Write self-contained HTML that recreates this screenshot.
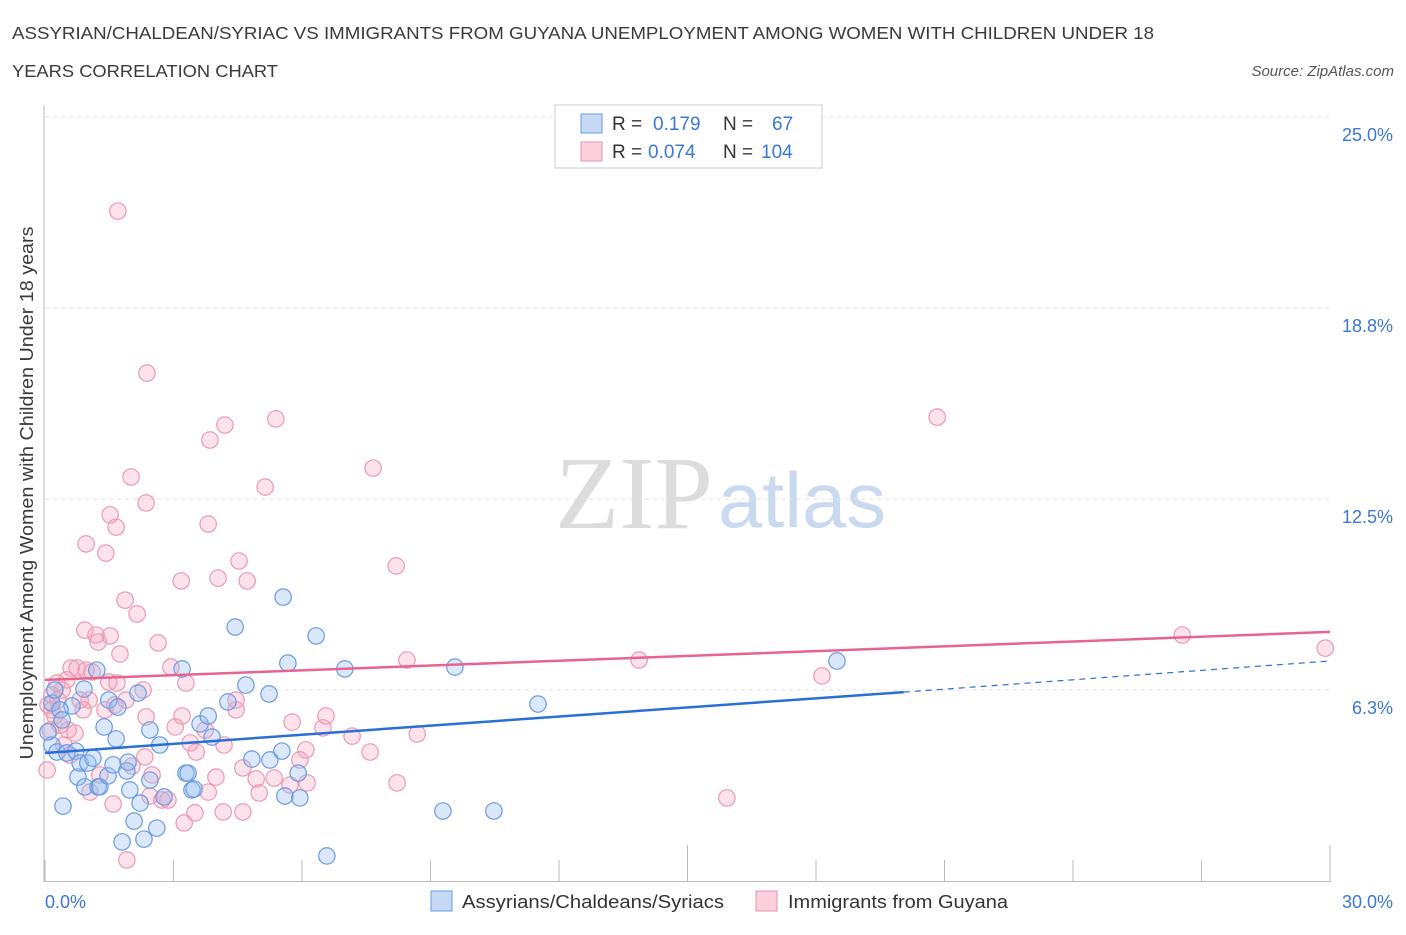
<!DOCTYPE html>
<html><head><meta charset="utf-8">
<style>
body{margin:0;background:#fff;font-family:"Liberation Sans",sans-serif;}
svg text{font-family:"Liberation Sans",sans-serif;}
</style></head>
<body>
<svg id="chart" width="1406" height="930" xmlns="http://www.w3.org/2000/svg">
<text x="12" y="39" font-size="17.5" fill="#3a3a3a" textLength="1142" lengthAdjust="spacingAndGlyphs">ASSYRIAN/CHALDEAN/SYRIAC VS IMMIGRANTS FROM GUYANA UNEMPLOYMENT AMONG WOMEN WITH CHILDREN UNDER 18</text>
<text x="12" y="77" font-size="17.5" fill="#3a3a3a" textLength="266" lengthAdjust="spacingAndGlyphs">YEARS CORRELATION CHART</text>
<text x="1394" y="76" font-size="15" fill="#555" font-style="italic" text-anchor="end">Source: ZipAtlas.com</text>
<g>
<text x="713" y="528" font-size="104" fill="#dcdcdc" text-anchor="end" textLength="158" lengthAdjust="spacingAndGlyphs" font-family="Liberation Serif" style="font-family:'Liberation Serif',serif">ZIP</text>
<text x="718" y="527" font-size="78" fill="#c9daf0" textLength="168" lengthAdjust="spacingAndGlyphs">atlas</text>
</g>
<g id="grid"></g>
<g id="axes"></g>
<g id="pts"></g>
<g id="trend"></g>
<text transform="translate(33,493) rotate(-90)" font-size="18" fill="#3a3a3a" text-anchor="middle" textLength="533" lengthAdjust="spacingAndGlyphs">Unemployment Among Women with Children Under 18 years</text>
<g>
<rect x="555" y="105" width="267" height="63" fill="#fff" stroke="#ccc"/>
<rect x="581" y="114" width="21" height="19" fill="#c5d9f5" stroke="#6a9be0"/>
<rect x="581" y="142" width="21" height="19" fill="#fbd0dc" stroke="#e992ad"/>
<text x="612" y="130" font-size="19" fill="#333">R = <tspan x="653" fill="#3a78d4">0.179</tspan><tspan x="723">N = </tspan><tspan x="772" fill="#3a78d4">67</tspan></text>
<text x="612" y="158" font-size="19" fill="#333">R = <tspan x="648" fill="#3a78d4">0.074</tspan><tspan x="723">N = </tspan><tspan x="761" fill="#3a78d4">104</tspan></text>
</g>
<g>
<rect x="431" y="891" width="21" height="20" fill="#c5d9f5" stroke="#6a9be0"/>
<text x="462" y="908" font-size="18" fill="#333" textLength="262" lengthAdjust="spacingAndGlyphs">Assyrians/Chaldeans/Syriacs</text>
<rect x="756" y="891" width="21" height="20" fill="#fbd0dc" stroke="#e992ad"/>
<text x="788" y="908" font-size="18" fill="#333" textLength="220" lengthAdjust="spacingAndGlyphs">Immigrants from Guyana</text>
</g>
</svg>
<script>
const blueX=[0.16,0.28,0.42,0.51,0.63,0.72,0.77,0.82,0.91,0.93,1.00,1.12,1.21,1.24,1.28,1.38,1.47,1.49,1.59,1.66,1.70,1.80,1.91,1.94,2.08,2.17,2.22,2.31,2.45,2.61,2.68,2.78,3.20,3.29,3.34,3.43,3.48,3.62,3.81,3.90,4.27,4.44,4.69,4.83,5.23,5.25,5.53,5.56,5.60,5.67,5.91,5.95,6.33,6.58,7.00,9.29,9.57,10.48,11.51,18.49,0.16,0.07,0.23,0.35,1.98,2.45,0.40];
const blueY=[4.45,4.22,2.45,4.19,5.73,4.25,3.40,3.86,6.28,3.08,3.86,4.02,6.90,3.08,3.08,5.04,3.44,5.92,3.80,4.65,5.69,1.28,3.60,3.89,1.96,6.15,2.55,1.37,4.94,1.73,4.45,2.75,6.94,3.53,3.53,2.98,3.01,5.14,5.40,4.71,5.86,8.31,6.41,3.99,6.12,3.96,4.25,9.29,2.78,7.13,3.53,2.72,8.02,0.82,6.94,2.29,7.00,2.29,5.79,7.20,5.82,4.88,6.25,5.60,2.98,3.30,5.27];
const pinkX=[1.70,2.38,5.39,20.83,4.20,3.85,7.66,2.01,5.14,2.36,1.52,1.66,3.81,0.96,1.42,4.53,8.20,3.18,4.04,4.72,1.87,2.15,1.19,1.52,2.64,1.24,1.75,0.61,0.75,0.96,1.10,2.94,3.29,1.68,1.49,0.28,0.40,8.45,13.87,26.55,29.89,18.14,1.03,1.89,1.40,3.20,4.46,6.56,5.77,0.16,0.23,0.35,3.04,3.39,4.18,7.17,6.49,8.69,7.59,6.09,3.53,2.33,2.03,2.50,4.62,3.99,5.35,4.93,5.00,6.12,8.22,2.45,2.73,2.87,1.59,3.50,4.16,4.62,3.25,15.92,1.91,0.54,0.70,0.44,1.28,1.63,0.16,0.07,0.30,0.12,0.89,0.58,0.05,1.05,3.81,0.82,0.93,2.36,4.46,3.74,5.95,2.29,5.72,0.51];
const pinkY=[21.92,16.62,15.12,15.18,14.92,14.43,13.51,13.22,12.89,12.37,11.98,11.58,11.68,11.03,10.73,10.47,10.31,9.82,9.91,9.82,9.19,8.74,8.05,8.02,7.79,7.82,7.43,6.97,6.97,6.90,6.84,7.00,6.48,6.48,6.51,6.48,6.25,7.23,7.23,8.05,7.62,6.71,5.92,5.92,5.60,5.40,5.60,5.40,5.20,5.60,5.40,5.10,5.04,4.52,4.45,4.74,5.01,4.81,4.22,4.29,4.22,4.06,3.76,3.47,3.70,3.40,3.37,3.34,2.88,3.21,3.21,2.78,2.65,2.65,2.52,2.23,2.26,2.26,1.90,2.72,0.69,4.94,4.84,4.45,3.47,5.76,6.09,5.76,5.92,4.94,5.60,4.12,3.63,2.91,2.91,5.92,8.21,5.37,5.92,4.94,3.96,6.25,3.14,6.58];
const blueTrendX=[0,20.05,30];
const blueTrendY=[4.19,6.18,7.2];
const pinkTrendX=[0,30];
const pinkTrendY=[6.58,8.15];
const yTicks=[6.25,12.5,18.75,25];
const yTickLabels=["6.3%","12.5%","18.8%","25.0%"];
const xTickVals=[0,3,6,9,12,15,18,21,24,27,30];

const NS="http://www.w3.org/2000/svg";
const sx=v=>45+v/30*1285;
const sy=v=>881-v*30.56;
function mk(parent,tag,attrs){const e=document.createElementNS(NS,tag);for(const k in attrs)e.setAttribute(k,attrs[k]);document.getElementById(parent).appendChild(e);return e;}

yTicks.forEach((t,i)=>{
  const g=mk('grid','line',{x1:45,x2:1330,y1:sy(t),y2:sy(t),stroke:'#e2e2e2','stroke-dasharray':'4,4'});
  
  
  const l=mk('grid','text',{x:1393,y:sy(t)+24,'font-size':18,fill:'#3a78d4','text-anchor':'end'});
  l.textContent=yTickLabels[i];
  
  
});
const ya=mk('axes','line',{x1:44,x2:44,y1:105,y2:882,stroke:'#bbb'});


const xa=mk('axes','line',{x1:44,x2:1331,y1:881.5,y2:881.5,stroke:'#bbb'});


xTickVals.forEach((t,i)=>{
  const big=(t===15||t===30);
  const tk=mk('axes','line',{x1:sx(t),x2:sx(t),y1:big?845:860,y2:881,stroke:'#bbb'});
  
  
});
const xl0=mk('axes','text',{x:45,y:908,'font-size':18,fill:'#3a78d4'});xl0.textContent='0.0%';


const xl1=mk('axes','text',{x:1393,y:908,'font-size':18,fill:'#3a78d4','text-anchor':'end'});xl1.textContent='30.0%';



pinkX.forEach((x,i)=>{
  const c=mk('pts','circle',{cx:sx(x),cy:sy(pinkY[i]),r:8.2,fill:'rgba(245,160,185,0.3)',stroke:'#ec99b3','stroke-width':1.2});
  
  
});
blueX.forEach((x,i)=>{
  const c=mk('pts','circle',{cx:sx(x),cy:sy(blueY[i]),r:8.2,fill:'rgba(150,190,240,0.35)',stroke:'#6a9be0','stroke-width':1.2});
  
  
});
const bt1=mk('trend','line',{x1:sx(blueTrendX[0]),y1:sy(blueTrendY[0]),x2:sx(blueTrendX[1]),y2:sy(blueTrendY[1]),stroke:'#2a6fd6','stroke-width':2.5});


const bt2=mk('trend','line',{x1:sx(blueTrendX[1]),y1:sy(blueTrendY[1]),x2:sx(blueTrendX[2]),y2:sy(blueTrendY[2]),stroke:'#2a6fd6','stroke-width':1.2,'stroke-dasharray':'6,5'});


const pt=mk('trend','line',{x1:sx(pinkTrendX[0]),y1:sy(pinkTrendY[0]),x2:sx(pinkTrendX[1]),y2:sy(pinkTrendY[1]),stroke:'#e8648f','stroke-width':2.5});


</script>
</body></html>
